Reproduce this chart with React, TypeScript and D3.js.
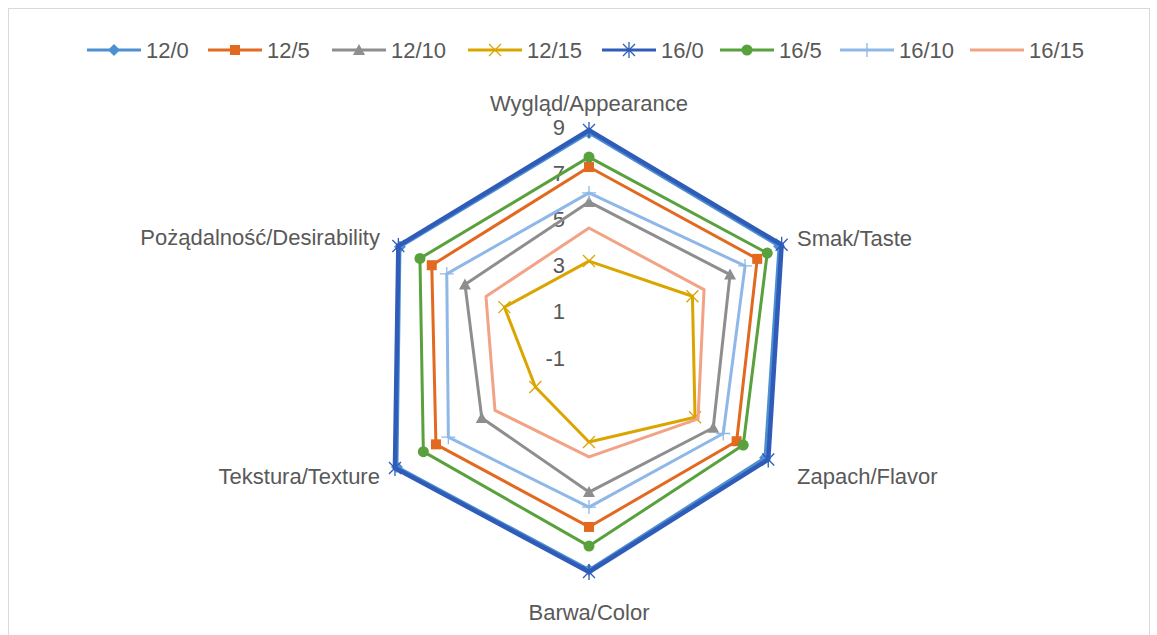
import React from "react";
import * as d3 from "d3";

const categories = [
  "Wygląd/Appearance",
  "Smak/Taste",
  "Zapach/Flavor",
  "Barwa/Color",
  "Tekstura/Texture",
  "Pożądalność/Desirability",
];

const seriesNames = ["12/0", "12/5", "12/10", "12/15", "16/0", "16/5", "16/10", "16/15"];

const v12_0 = [8.65, 8.5, 7.8, 8.25, 8.6, 8.45];
const v12_5 = [7.18, 7.41, 6.38, 6.4, 6.65, 6.86];
const v12_10 = [5.67, 6.05, 5.21, 4.89, 4.36, 5.2];
const v12_15 = [3.11, 4.17, 4.3, 2.72, 1.68, 3.23];
const v16_0 = [8.78, 8.63, 7.96, 8.35, 8.7, 8.53];
const v16_5 = [7.61, 7.91, 6.71, 7.23, 7.28, 7.45];
const v16_10 = [6.06, 6.8, 5.71, 5.54, 6.03, 6.11];
const v16_15 = [4.54, 4.75, 4.45, 3.37, 3.7, 4.15];

const seriesValues = [v12_0, v12_5, v12_10, v12_15, v16_0, v16_5, v16_10, v16_15];

const tickValues = [-1, 1, 3, 5, 7, 9];

const colors = ["#4E8FD2", "#E2691F", "#8E8E8E", "#DBA500", "#2E5CB8", "#58A13C", "#8FB8E8", "#F2A386"];
const markers = ["diamond", "square", "triangle", "x", "star", "circle", "plus", "none"];
const widths = [3, 3, 3, 3, 4.5, 3, 3, 3];

const FONT = "'Liberation Sans', Arial, sans-serif";
const TEXT = "#595959";
const FS = 22;

function Marker({ type, x, y, color }: { type: string; x: number; y: number; color: string }) {
  const s = 5;
  switch (type) {
    case "diamond":
      return <path d={`M${x},${y - 6}L${x + 6},${y}L${x},${y + 6}L${x - 6},${y}Z`} fill={color} />;
    case "square":
      return <rect x={x - s} y={y - s} width={2 * s} height={2 * s} fill={color} />;
    case "triangle":
      return <path d={`M${x},${y - 6}L${x + 6},${y + 5}L${x - 6},${y + 5}Z`} fill={color} />;
    case "circle":
      return <circle cx={x} cy={y} r={5.5} fill={color} />;
    case "x":
      return (
        <path d={`M${x - 6},${y - 6}L${x + 6},${y + 6}M${x - 6},${y + 6}L${x + 6},${y - 6}`} stroke={color} strokeWidth={1.3} />
      );
    case "plus":
      return <path d={`M${x - 7},${y}L${x + 7},${y}M${x},${y - 7}L${x},${y + 7}`} stroke={color} strokeWidth={1.3} />;
    case "star":
      return (
        <path
          d={`M${x - 6},${y - 6}L${x + 6},${y + 6}M${x - 6},${y + 6}L${x + 6},${y - 6}M${x},${y - 8}L${x},${y + 8}`}
          stroke={color}
          strokeWidth={1.3}
        />
      );
    default:
      return null;
  }
}

export default function App() {
  const W = 1157;
  const H = 635;
  const cx = 589;
  const cy = 356;
  const R = 231;
  const r = d3.scaleLinear().domain([-1, 9]).range([0, R]);
  const n = categories.length;
  const angle = (i: number) => (i * 2 * Math.PI) / n;
  const pt = (i: number, v: number): [number, number] => {
    const a = angle(i);
    return [cx + r(v) * Math.sin(a), cy - r(v) * Math.cos(a)];
  };
  const line = d3.line<[number, number]>().curve(d3.curveLinearClosed);

  const legendX = [87, 208, 332, 468, 602, 720, 840, 970];
  const legendY = 50;

  const labelPos = [
    { x: cx, y: cy - R - 22, anchor: "middle" },
    { x: cx + R * Math.sin(angle(1)) + 8, y: cy - R * 0.5 - 2, anchor: "start" },
    { x: cx + R * Math.sin(angle(2)) + 8, y: cy + R * 0.5 + 5, anchor: "start" },
    { x: cx, y: cy + R + 25, anchor: "middle" },
    { x: cx - R * Math.sin(angle(1)) - 9, y: cy + R * 0.5 + 5, anchor: "end" },
    { x: cx - R * Math.sin(angle(1)) - 9, y: cy - R * 0.5 - 3, anchor: "end" },
  ];

  return (
    <svg width={W} height={H} style={{ position: "absolute", left: 0, top: 0 }} fontFamily={FONT}>
      <rect x={0} y={0} width={W} height={H} fill="#fff" />
      <rect x={8.5} y={8.5} width={1141} height={700} fill="none" stroke="#d9d9d9" strokeWidth={1} />

      {tickValues.map((t) => (
        <text key={t} x={565} y={cy - r(t) + 2} textAnchor="end" dominantBaseline="central" fontSize={FS} fill={TEXT}>
          {t}
        </text>
      ))}

      {categories.map((c, i) => (
        <text
          key={c}
          x={labelPos[i].x}
          y={labelPos[i].y}
          textAnchor={labelPos[i].anchor as any}
          dominantBaseline="central"
          fontSize={FS}
          fill={TEXT}
        >
          {c}
        </text>
      ))}

      {seriesValues.map((vals, s) => {
        const pts = vals.map((v, i) => pt(i, v));
        return (
          <g key={seriesNames[s]}>
            <path d={line(pts) || ""} fill="none" stroke={colors[s]} strokeWidth={widths[s]} strokeLinejoin="round" />
            {pts.map((p, i) => (
              <Marker key={i} type={markers[s]} x={p[0]} y={p[1]} color={colors[s]} />
            ))}
          </g>
        );
      })}

      {seriesNames.map((name, s) => (
        <g key={name}>
          <line
            x1={legendX[s]}
            x2={legendX[s] + 54}
            y1={legendY}
            y2={legendY}
            stroke={colors[s]}
            strokeWidth={3}
          />
          <Marker type={markers[s]} x={legendX[s] + 27} y={legendY} color={colors[s]} />
          <text x={legendX[s] + 59} y={legendY} dominantBaseline="central" fontSize={FS} fill={TEXT}>
            {name}
          </text>
        </g>
      ))}
    </svg>
  );
}
